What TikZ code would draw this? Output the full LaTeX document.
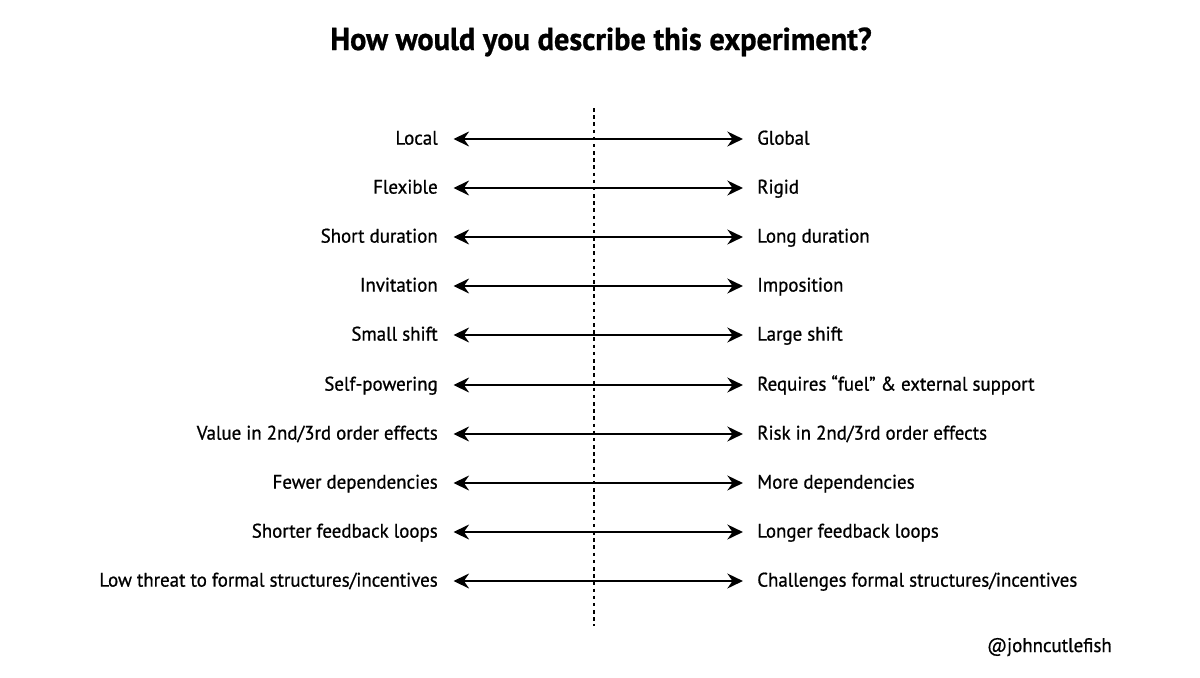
\documentclass[tikz,border=0pt]{standalone}
\usepackage{fontspec}
\setmainfont{PT Sans}[FakeStretch=0.96, FakeBold=0.8]
\usetikzlibrary{arrows.meta,positioning}

\begin{document}
\begin{tikzpicture}[
  x=0.025cm, y=-0.025cm,
  lbl/.style={inner sep=0pt, font=\fontsize{14}{16}\selectfont, text height=11pt, text depth=3pt},
  leftlbl/.style={lbl, anchor=east},
  rightlbl/.style={lbl, anchor=west},
  arr/.style={{Stealth[length=11pt,width=10.5pt]}-{Stealth[length=11pt,width=10.5pt]}, line width=1.9pt, shorten <=11pt, shorten >=10pt},
  midline/.style={line width=1.4pt, dash pattern=on 2.5pt off 2.6pt},
]
\useasboundingbox (0,0) rectangle (1200,677);

\node[font=\bfseries\fontsize{22.5}{26}\selectfont, anchor=base, inner sep=0pt] (title) at (601,50) {How would you describe this experiment?};

\coordinate (top) at (594,108);
\coordinate (bot) at (594,626);
\draw[midline] (top) -- (bot);

\node[leftlbl] (l1) at (438,139) {Local};
\node[leftlbl] (l2) at (438,188) {Flexible};
\node[leftlbl] (l3) at (438,237) {Short duration};
\node[leftlbl] (l4) at (438,286) {Invitation};
\node[leftlbl] (l5) at (438,335) {Small shift};
\node[leftlbl] (l6) at (438,385) {Self-powering};
\node[leftlbl] (l7) at (438,434) {Value in 2nd/3rd order effects};
\node[leftlbl] (l8) at (438,483) {Fewer dependencies};
\node[leftlbl] (l9) at (438,532) {Shorter feedback loops};
\node[leftlbl] (l10) at (438,581) {Low threat to formal structures/incentives};

\node[rightlbl] (r1) at (757,139) {Global};
\node[rightlbl] (r2) at (757,188) {Rigid};
\node[rightlbl] (r3) at (757,237) {Long duration};
\node[rightlbl] (r4) at (757,286) {Imposition};
\node[rightlbl] (r5) at (757,335) {Large shift};
\node[rightlbl] (r6) at (757,385) {Requires “fuel” \& external support};
\node[rightlbl] (r7) at (757,434) {Risk in 2nd/3rd order effects};
\node[rightlbl] (r8) at (757,483) {More dependencies};
\node[rightlbl] (r9) at (757,532) {Longer feedback loops};
\node[rightlbl] (r10) at (757,581) {Challenges formal structures/incentives};

\draw[arr] (l1) -- (r1);
\draw[arr] (l2) -- (r2);
\draw[arr] (l3) -- (r3);
\draw[arr] (l4) -- (r4);
\draw[arr] (l5) -- (r5);
\draw[arr] (l6) -- (r6);
\draw[arr] (l7) -- (r7);
\draw[arr] (l8) -- (r8);
\draw[arr] (l9) -- (r9);
\draw[arr] (l10) -- (r10);

\node[lbl, anchor=base east, text height=, text depth=] (handle) at (1112,652) {@johncutlefish};

\end{tikzpicture}
\end{document}
